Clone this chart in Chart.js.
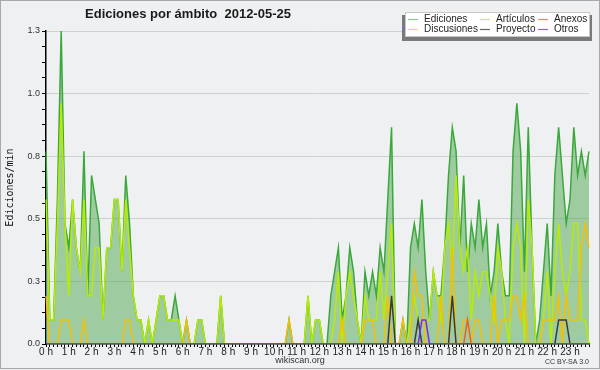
<!DOCTYPE html>
<html>
<head>
<meta charset="utf-8">
<script src="https://cdn.jsdelivr.net/npm/chart.js@4/dist/chart.umd.min.js"></script>
<style>
  html, body { margin: 0; padding: 0; background: #eff0f2; }
</style>
</head>
<body>
<canvas id="scopeChart" width="600" height="370"></canvas>
<script>
// Edits per minute by namespace, 10-minute bins, 2012-05-25
const chartTitle = 'Ediciones por ámbito  2012-05-25';
const hourLabels = ['0 h', '1 h', '2 h', '3 h', '4 h', '5 h', '6 h', '7 h', '8 h', '9 h', '10 h', '11 h',
  '12 h', '13 h', '14 h', '15 h', '16 h', '17 h', '18 h', '19 h', '20 h', '21 h', '22 h', '23 h'];

// one row = two hours (12 bins)
const ediciones = [
  0.8, 0.1, 0.1, 0.6, 1.3, 0.5, 0.4, 0.6, 0.4, 0.3, 0.8, 0.2,
  0.7, 0.6, 0.5, 0.1, 0.4, 0.4, 0.6, 0.6, 0.3, 0.7, 0.5, 0.2,
  0.1, 0.1, 0, 0.1, 0, 0.1, 0.2, 0.2, 0.1, 0.1, 0.2, 0.1,
  0, 0.1, 0, 0, 0.1, 0.1, 0, 0, 0, 0, 0.2, 0,
  0, 0, 0, 0, 0, 0, 0, 0, 0, 0, 0, 0,
  0, 0, 0, 0, 0.1, 0, 0, 0, 0, 0.2, 0, 0.1,
  0.1, 0, 0, 0.2, 0.3, 0.4, 0.1, 0.2, 0.4, 0.3, 0.1, 0,
  0.3, 0.2, 0.3, 0.2, 0.4, 0.3, 0.6, 0.9, 0, 0, 0.1, 0,
  0.4, 0.5, 0.4, 0.6, 0.3, 0.1, 0.3, 0.2, 0.2, 0.4, 0.7, 0.9,
  0.8, 0.4, 0.7, 0.3, 0.5, 0.4, 0.6, 0.4, 0.5, 0.2, 0.3, 0.5,
  0.3, 0.2, 0.2, 0.8, 1.0, 0.8, 0.3, 0.9, 0.4, 0, 0.1, 0.3,
  0.5, 0.2, 0.7, 0.9, 0.7, 0.5, 0.6, 0.9, 0.7, 0.8, 0.7, 0.8
];
const articulos = [
  0.6, 0.1, 0.1, 0.5, 1.0, 0.5, 0.2, 0.6, 0.4, 0.3, 0.6, 0.2,
  0.2, 0.4, 0.4, 0.1, 0.4, 0.4, 0.6, 0.6, 0.3, 0.6, 0.4, 0.2,
  0.1, 0.1, 0, 0.1, 0, 0.1, 0.2, 0.2, 0.1, 0.1, 0.1, 0.1,
  0, 0, 0, 0, 0.1, 0.1, 0, 0, 0, 0, 0.2, 0,
  0, 0, 0, 0, 0, 0, 0, 0, 0, 0, 0, 0,
  0, 0, 0, 0, 0, 0, 0, 0, 0, 0.2, 0, 0.1,
  0.1, 0, 0, 0, 0.1, 0.3, 0, 0.2, 0.3, 0.2, 0.1, 0,
  0.2, 0.1, 0.1, 0.1, 0.3, 0.1, 0.3, 0.5, 0, 0, 0, 0,
  0.1, 0.2, 0.1, 0.1, 0.1, 0.1, 0.3, 0.2, 0.1, 0.4, 0.5, 0.3,
  0.7, 0.4, 0.3, 0.4, 0.1, 0.3, 0.2, 0.3, 0.3, 0.2, 0.1, 0.4,
  0.3, 0.1, 0, 0.4, 0.5, 0.4, 0, 0.6, 0.4, 0, 0, 0.1,
  0.3, 0, 0.3, 0.5, 0.3, 0.2, 0.3, 0.5, 0.5, 0.1, 0.1, 0
];
const anexos = [
  0, 0, 0, 0, 0, 0, 0, 0, 0, 0, 0, 0,
  0, 0, 0, 0, 0, 0, 0, 0, 0, 0, 0, 0,
  0, 0, 0, 0, 0, 0, 0, 0, 0, 0, 0, 0,
  0, 0, 0, 0, 0, 0, 0, 0, 0, 0, 0, 0,
  0, 0, 0, 0, 0, 0, 0, 0, 0, 0, 0, 0,
  0, 0, 0, 0, 0, 0, 0, 0, 0, 0, 0, 0,
  0, 0, 0, 0, 0, 0, 0, 0, 0, 0, 0, 0,
  0, 0, 0, 0, 0, 0, 0, 0, 0, 0, 0, 0,
  0, 0, 0, 0, 0, 0, 0, 0, 0, 0, 0, 0,
  0, 0, 0, 0.1, 0, 0, 0, 0, 0, 0, 0, 0,
  0, 0, 0, 0, 0, 0, 0, 0, 0, 0, 0, 0,
  0, 0, 0, 0, 0, 0, 0, 0, 0, 0, 0, 0
];
const discusiones = [
  0.2, 0, 0, 0, 0.1, 0.1, 0.1, 0, 0, 0, 0.1, 0,
  0, 0, 0, 0, 0, 0, 0, 0, 0, 0.1, 0.1, 0,
  0, 0, 0, 0, 0, 0, 0, 0, 0, 0, 0, 0,
  0, 0.1, 0, 0, 0, 0, 0, 0, 0, 0, 0, 0,
  0, 0, 0, 0, 0, 0, 0, 0, 0, 0, 0, 0,
  0, 0, 0, 0, 0.1, 0, 0, 0, 0, 0, 0, 0,
  0, 0, 0, 0, 0, 0, 0.1, 0, 0, 0, 0, 0,
  0.1, 0.1, 0.1, 0, 0, 0, 0.2, 0, 0, 0, 0.1, 0,
  0, 0.3, 0.2, 0.2, 0, 0, 0, 0, 0.2, 0, 0, 0.4,
  0, 0, 0.1, 0.1, 0, 0.1, 0.1, 0, 0, 0, 0.2, 0,
  0.1, 0.1, 0.1, 0.2, 0.2, 0.1, 0.2, 0, 0, 0, 0, 0.1,
  0.1, 0.1, 0.1, 0.2, 0, 0.2, 0.1, 0.1, 0.1, 0.4, 0.5, 0.4
];
const proyecto = [
  0, 0, 0, 0, 0, 0, 0, 0, 0, 0, 0, 0,
  0, 0, 0, 0, 0, 0, 0, 0, 0, 0, 0, 0,
  0, 0, 0, 0, 0, 0, 0, 0, 0, 0, 0, 0,
  0, 0, 0, 0, 0, 0, 0, 0, 0, 0, 0, 0,
  0, 0, 0, 0, 0, 0, 0, 0, 0, 0, 0, 0,
  0, 0, 0, 0, 0, 0, 0, 0, 0, 0, 0, 0,
  0, 0, 0, 0, 0, 0, 0, 0, 0, 0, 0, 0,
  0, 0, 0, 0, 0, 0, 0, 0.2, 0, 0, 0, 0,
  0, 0, 0.1, 0, 0, 0, 0, 0, 0, 0, 0, 0.2,
  0, 0, 0, 0, 0, 0, 0, 0, 0, 0, 0, 0,
  0, 0, 0, 0, 0, 0, 0, 0, 0, 0, 0, 0,
  0, 0, 0, 0.1, 0.1, 0.1, 0, 0, 0, 0, 0, 0
];
const otros = [
  0, 0, 0, 0, 0, 0, 0, 0, 0, 0, 0, 0,
  0, 0, 0, 0, 0, 0, 0, 0, 0, 0, 0, 0,
  0, 0, 0, 0, 0, 0, 0, 0, 0, 0, 0, 0,
  0, 0, 0, 0, 0, 0, 0, 0, 0, 0, 0, 0,
  0, 0, 0, 0, 0, 0, 0, 0, 0, 0, 0, 0,
  0, 0, 0, 0, 0, 0, 0, 0, 0, 0, 0, 0,
  0, 0, 0, 0, 0, 0, 0, 0, 0, 0, 0, 0,
  0, 0, 0, 0, 0, 0, 0, 0, 0, 0, 0, 0,
  0, 0, 0, 0.1, 0.1, 0, 0, 0, 0, 0, 0, 0,
  0, 0, 0, 0, 0, 0, 0, 0, 0, 0, 0, 0,
  0, 0, 0, 0, 0, 0, 0, 0, 0, 0, 0, 0,
  0, 0, 0, 0, 0, 0, 0, 0, 0, 0, 0, 0
];

// 10-minute slot names, hour label shown on every 6th tick
const slots = [];
for (let h = 0; h < 24; h++) {
  for (let m = 0; m < 60; m += 10) slots.push(h + ':' + (m < 10 ? '0' : '') + m);
}

const FONT = 'Liberation Sans';

// background, title, legend box, footer
const decor = {
  id: 'decor',
  beforeDraw(chart) {
    const c = chart.ctx;
    c.save();
    c.fillStyle = '#eff0f2';
    c.fillRect(0, 0, chart.width, chart.height);
    c.restore();
  },
  afterDraw(chart) {
    const c = chart.ctx;
    c.save();
    c.fillStyle = '#1a1a1a';
    c.font = 'bold 13px ' + FONT;
    c.textAlign = 'center';
    c.textBaseline = 'middle';
    c.fillText(chartTitle, 188, 14);

    // legend box with shadow
    c.fillStyle = '#7a7a7a';
    c.fillRect(402, 15, 190, 26);
    c.fillStyle = '#ffffff';
    c.fillRect(405, 12, 185, 25);
    c.strokeStyle = '#c8c8c8';
    c.lineWidth = 1;
    c.strokeRect(405.5, 12.5, 184, 24);

    const cols = [408, 480, 538];
    const rows = [19, 29];
    c.font = '10px ' + FONT;
    c.textAlign = 'left';
    chart.data.datasets.forEach((ds, k) => {
      const x = cols[k % 3], y = rows[Math.floor(k / 3)];
      c.strokeStyle = ds.legendColor;
      c.lineWidth = 1.2;
      c.beginPath();
      c.moveTo(x, y + 0.5);
      c.lineTo(x + 10, y + 0.5);
      c.stroke();
      c.fillStyle = '#222';
      c.fillText(ds.label, x + 16, y);
    });

    c.font = '9px ' + FONT;
    c.textAlign = 'center';
    c.fillStyle = '#333';
    c.fillText('wikiscan.org', 300, 361);
    c.font = '7px ' + FONT;
    c.textAlign = 'right';
    c.fillText('CC BY-SA 3.0', 589, 362);

    c.strokeStyle = '#a8a8a8';
    c.lineWidth = 1;
    c.strokeRect(0.5, 0.5, 599, 368);
    c.restore();
  }
};

const ctx = document.getElementById('scopeChart').getContext('2d');

new Chart(ctx, {
  type: 'line',
  data: {
    labels: slots,
    datasets: [
      { label: 'Ediciones', data: ediciones, borderColor: '#3aa83a', legendColor: '#86cc86',
        backgroundColor: 'rgba(78,168,78,0.5)', fill: 'origin', borderWidth: 1.5, order: 6 },
      { label: 'Artículos', data: articulos, borderColor: '#b8ec00', legendColor: '#cdee5a',
        fill: false, borderWidth: 1.5, order: 5 },
      { label: 'Anexos', data: anexos, borderColor: '#e8621e', legendColor: '#ee8a5a',
        fill: false, borderWidth: 1.5, order: 2 },
      { label: 'Discusiones', data: discusiones, borderColor: '#f5c000', legendColor: '#ffd45a',
        fill: false, borderWidth: 1.5, order: 4 },
      { label: 'Proyecto', data: proyecto, borderColor: '#3a3a3a', legendColor: '#666666',
        fill: false, borderWidth: 1.5, order: 3 },
      { label: 'Otros', data: otros, borderColor: '#7a2ae8', legendColor: '#9a5aee',
        fill: false, borderWidth: 1.5, order: 1 }
    ]
  },
  options: {
    responsive: false,
    animation: false,
    devicePixelRatio: 1,
    layout: { padding: { left: 0, right: 11, top: 31, bottom: 0 } },
    elements: { point: { radius: 0 }, line: { tension: 0 } },
    plugins: {
      legend: { display: false },
      tooltip: { enabled: false },
      filler: { drawTime: 'beforeDatasetsDraw' }
    },
    scales: {
      x: {
        offset: false,
        z: 1,
        afterFit: s => { s.height = 26; },
        ticks: {
          autoSkip: false,
          maxRotation: 0,
          minRotation: 0,
          padding: -1,
          color: '#222',
          font: { family: FONT, size: 10 },
          callback: (v, i) => (i % 6 === 0 ? hourLabels[i / 6] : '')
        },
        grid: { drawOnChartArea: false, tickColor: '#000', tickLength: 3 },
        border: { color: '#000', width: 1.5 }
      },
      y: {
        min: 0,
        max: 1.3,
        z: 1,
        afterFit: s => { s.width = 46; },
        ticks: {
          stepSize: 0.065,
          autoSkip: false,
          padding: 2,
          color: '#333',
          font: { family: FONT, size: 9 },
          callback: (v, i) => (i % 4 === 0 ? v.toFixed(1) : '')
        },
        grid: {
          color: c => (c.index % 4 === 0 && c.index > 0 ? '#d0d0d0' : 'rgba(0,0,0,0)'),
          tickColor: '#000',
          tickLength: 4
        },
        border: { color: '#000', width: 1.5 },
        title: {
          display: true,
          text: 'Ediciones/min',
          color: '#111',
          font: { family: 'DejaVu Sans Mono', size: 10 },
          padding: { top: 4, bottom: 0 }
        }
      }
    }
  },
  plugins: [decor]
});
</script>
</body>
</html>
